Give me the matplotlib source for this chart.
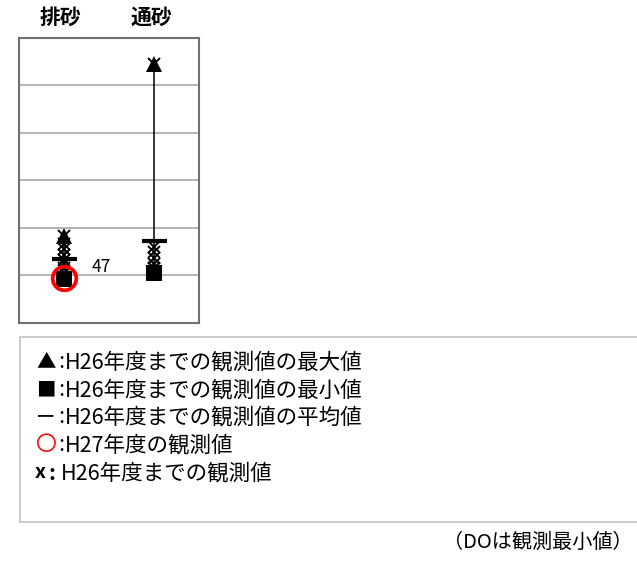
import matplotlib
matplotlib.use("Agg")
import matplotlib.pyplot as plt
import matplotlib.transforms as mtransforms
from matplotlib.patches import Rectangle
import numpy as np

plt.rcParams['font.family'] = ['Noto Sans CJK JP', 'DejaVu Sans']

# ---- data ----
categories = ['排砂', '通砂']
max_vals = [91, 272]
min_vals = [46, 52]
mean_vals = [67, 86]
h27_vals = [47, np.nan]
obs_haisa = [91, 83, 77, 71, 66, 62, 57, 52, 47]
obs_tsusa = [272, 80, 74, 68, 62, 57, 52]
obs_vals = [obs_haisa, obs_tsusa]
y_min, y_max, y_step = 0, 300, 50

legend_symbols = ['▲', '■', 'ー', '〇', 'x']
legend_labels = ['H26年度までの観測値の最大値',
                 'H26年度までの観測値の最小値',
                 'H26年度までの観測値の平均値',
                 'H27年度の観測値',
                 'H26年度までの観測値']
note_text = '（DOは観測最小値）'

W, H = 637, 561
fig = plt.figure(figsize=(W / 100, H / 100), dpi=100)
ax = fig.add_axes([18.5 / W, 1 - 322.5 / H, 180.5 / W, 285 / H])

xs = np.arange(len(categories))
for i in xs:
    ax.plot([i, i], [min_vals[i], max_vals[i]], color='black', lw=1.1, zorder=2)
    ax.plot(np.full(len(obs_vals[i]), i), obs_vals[i], linestyle='none', marker='x',
            color='black', markersize=8.5, mew=1.4, zorder=3)
ax.plot(xs, min_vals, linestyle='none', marker='s', color='black', markersize=11.5, mew=0, zorder=4)
ax.plot(xs, max_vals, linestyle='none', marker='^', color='black', markersize=12, mew=0, zorder=4)
ax.plot(xs, mean_vals, linestyle='none', marker='_', color='black', markersize=18, mew=3, zorder=4)
ax.plot(xs, h27_vals, linestyle='none', marker='o', markerfacecolor='none',
        markeredgecolor='#ff0000', markersize=17, mew=2.7, zorder=5)
for i, v in enumerate(h27_vals):
    if not np.isnan(v):
        ax.annotate(f'{v:g}', (i, v), xytext=(20, 8), textcoords='offset points',
                    ha='left', va='center', fontsize=12.5)

ax.set_xlim(-0.5, len(categories) - 0.5)
ax.set_ylim(y_min, y_max)
ax.set_yticks(np.arange(y_min, y_max + 1, y_step))
ax.set_xticks([])
ax.tick_params(left=False, labelleft=False)
ax.yaxis.grid(True, color='#a0a0a0', lw=1.1)
ax.set_axisbelow(True)
for s in ax.spines.values():
    s.set_color('#707070')
    s.set_linewidth(1.5)

trans = mtransforms.blended_transform_factory(ax.transData, ax.transAxes)
for i, c in enumerate(categories):
    ax.text(i - 0.03, 1.072, c, transform=trans, ha='center', va='center',
            fontsize=15, fontweight='bold')

# legend box
fig.patches.append(Rectangle((20 / W, 1 - 522 / H), 630 / W, 185 / H, transform=fig.transFigure,
                             facecolor='white', edgecolor='#c8c8c8', lw=1.3))
ys = [362, 390, 417, 445, 473]
for sym, lab, yy in zip(legend_symbols, legend_labels, ys):
    color = '#ff0000' if sym == '〇' else 'black'
    if sym == 'x':
        fig.text(35 / W, 1 - yy / H, sym, ha='left', va='center', fontsize=14, fontweight='bold')
        fig.text(49 / W, 1 - yy / H, ':', ha='left', va='center', fontsize=15, fontweight='bold')
        fig.text(61 / W, 1 - yy / H, lab, ha='left', va='center', fontsize=15.5)
    else:
        fig.text(36 / W, 1 - yy / H, sym, ha='left', va='center', fontsize=14 if sym != '〇' else 15,
                 color=color)
        fig.text(58 / W, 1 - yy / H, ':', ha='left', va='center', fontsize=15.5)
        fig.text(65 / W, 1 - yy / H, lab, ha='left', va='center', fontsize=15.5)

fig.text(633 / W, 1 - 542 / H, note_text, ha='right', va='center', fontsize=14.5)

fig.savefig('out.png', dpi=100)
